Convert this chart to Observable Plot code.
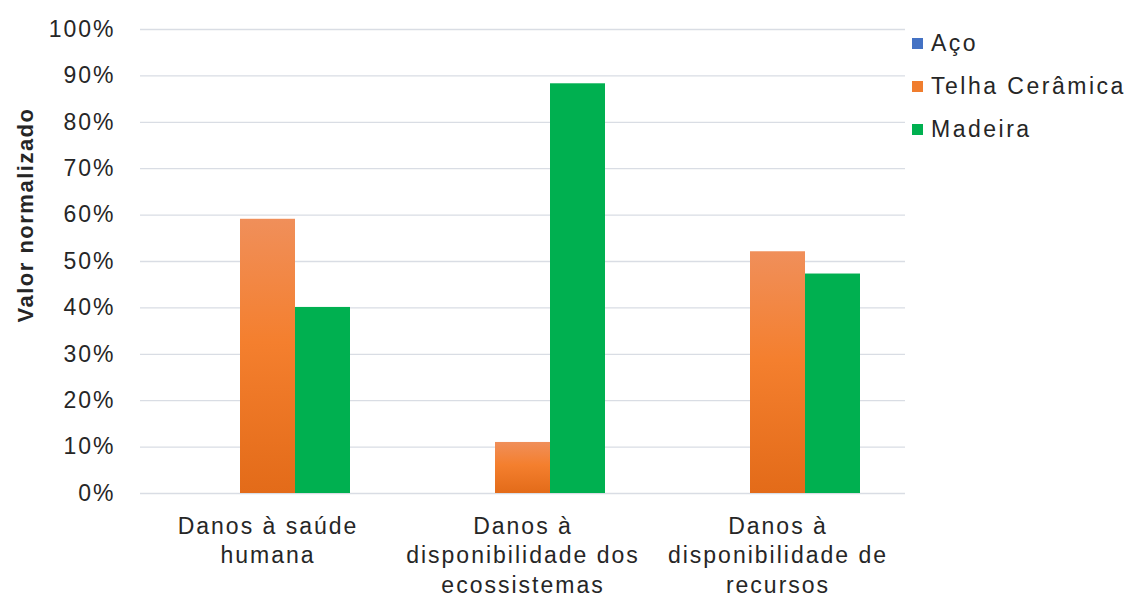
<!DOCTYPE html>
<html>
<head>
<meta charset="utf-8">
<script src="https://cdn.jsdelivr.net/npm/d3@7"></script>
<script src="https://cdn.jsdelivr.net/npm/@observablehq/plot@0.6"></script>
<style>
  body { margin: 0; background: #fff; }
  #chart { position: relative; width: 1127px; height: 598px; font-family: "Liberation Sans", Arial, sans-serif; color: #262626; }
  .legend { position: absolute; left: 912px; top: 22px; font-size: 23px; letter-spacing: 2.5px; }
  .legend .item { display: flex; align-items: center; height: 43px; }
  .legend .sw { width: 11px; height: 11px; margin-right: 8px; flex: none; }
</style>
</head>
<body>
<div id="chart"></div>
<script>
// Impact categories (x groups) and their multi-line axis labels
const categorias = [
  "Danos à saúde humana",
  "Danos à disponibilidade dos ecossistemas",
  "Danos à disponibilidade de recursos"
];
const rotulos = [
  "Danos à saúde\nhumana",
  "Danos à\ndisponibilidade dos\necossistemas",
  "Danos à\ndisponibilidade de\nrecursos"
];

// Roofing materials (series)
const series = ["Aço", "Telha Cerâmica", "Madeira"];

// Normalized values (%) per category, one array per series
const aco = [0, 0, 0];
const telha = [59.1, 11.0, 52.1];
const madeira = [40.1, 88.3, 47.3];

// Y axis ticks (%)
const yTicks = [0, 10, 20, 30, 40, 50, 60, 70, 80, 90, 100];

// Series fills (ceramic tile uses a vertical gradient defined below)
const cores = ["#4472C4", "url(#grad-telha)", "#00B050"];
const coresLegenda = ["#4472C4", "#F07D2E", "#00B050"];

const valores = [aco, telha, madeira];
const dados = [];
categorias.forEach((c, i) => {
  series.forEach((s, j) => {
    dados.push({categoria: c, serie: s, valor: valores[j][i]});
  });
});

const plot = Plot.plot({
  width: 1127,
  height: 598,
  marginTop: 29,
  marginBottom: 105,
  marginLeft: 140,
  marginRight: 222,
  style: {
    fontFamily: "'Liberation Sans', Arial, sans-serif",
    fontSize: "22px",
    color: "#262626",
    background: "transparent",
    letterSpacing: "2px"
  },
  fx: {domain: categorias, padding: 0},
  x: {domain: series, paddingInner: 0, paddingOuter: 0.79, axis: null},
  y: {domain: [0, 100], axis: null},
  color: {type: "identity"},
  marks: [
    Plot.gridY(yTicks, {stroke: "#d9dde4", strokeOpacity: 1, strokeWidth: 1.3}),
    Plot.axisY(yTicks, {
      tickSize: 0,
      tickPadding: 25,
      tickFormat: d => d + "%",
      label: null,
      fontSize: 23
    }),
    Plot.axisFx({
      anchor: "bottom",
      tickSize: 0,
      tickPadding: 20,
      tickFormat: d => rotulos[categorias.indexOf(d)],
      label: null,
      lineHeight: 1.27,
      fontSize: 23
    }),
    Plot.barY(dados, {
      fx: "categoria",
      x: "serie",
      y: "valor",
      fill: d => cores[series.indexOf(d.serie)]
    })
  ]
});

// Gradient for the ceramic tile bars: lighter at the top, darker at the base
const svg = d3.select(plot);
const grad = svg.insert("defs", ":first-child")
  .append("linearGradient")
  .attr("id", "grad-telha")
  .attr("x1", 0).attr("y1", 0).attr("x2", 0).attr("y2", 1);
grad.append("stop").attr("offset", "0%").attr("stop-color", "#F08F5A");
grad.append("stop").attr("offset", "45%").attr("stop-color", "#F47F2E");
grad.append("stop").attr("offset", "100%").attr("stop-color", "#E36B19");

// Y axis title
svg.append("text")
  .attr("transform", "translate(33,215) rotate(-90)")
  .attr("text-anchor", "middle")
  .attr("font-weight", "bold")
  .attr("font-size", 22)
  .attr("fill", "#262626")
  .style("letter-spacing", "1.5px")
  .text("Valor normalizado");

const chart = document.getElementById("chart");
chart.appendChild(plot);

// Legend
const legend = document.createElement("div");
legend.className = "legend";
series.forEach((s, j) => {
  const item = document.createElement("div");
  item.className = "item";
  const sw = document.createElement("span");
  sw.className = "sw";
  sw.style.background = coresLegenda[j];
  const label = document.createElement("span");
  label.textContent = s;
  item.appendChild(sw);
  item.appendChild(label);
  legend.appendChild(item);
});
chart.appendChild(legend);
</script>
</body>
</html>
